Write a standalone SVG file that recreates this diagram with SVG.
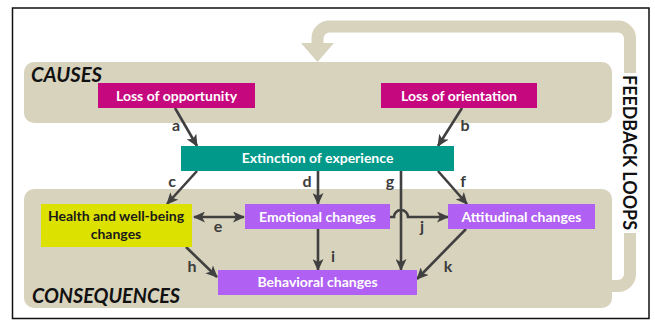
<svg xmlns="http://www.w3.org/2000/svg" width="655" height="320" viewBox="0 0 655 320">
<style>
.band{fill:#d8d3bd}
.loop{fill:none;stroke:#d8d3bd;stroke-width:12}
.box-m{fill:#c6087f}
.box-t{fill:#00998a}
.box-y{fill:#dde100}
.box-p{fill:#b060f2}
.lbl{font-family:Lato,"Open Sans","Liberation Sans",sans-serif;font-weight:bold;font-size:14px;fill:#ffffff;text-anchor:middle}
.dark{fill:#1a1a1a}
.head{font-family:Lato,"Open Sans","Liberation Sans",sans-serif;font-weight:bold;font-style:italic;font-size:20px;fill:#111111}
.let{font-family:Lato,"Open Sans","Liberation Sans",sans-serif;font-weight:bold;font-size:16px;fill:#3c3c3c;text-anchor:middle}
.arr{fill:none;stroke:#404040;stroke-width:2.6;marker-end:url(#ah)}
</style>
<defs>
<marker id="ah" markerUnits="userSpaceOnUse" markerWidth="12" markerHeight="11" viewBox="0 0 12 11" refX="11" refY="5.5" orient="auto-start-reverse">
<path d="M0,0 L12,5.5 L0,11 L3,5.5 z" fill="#404040"/>
</marker>
</defs>
<rect x="12.5" y="8" width="636.5" height="310.5" fill="#ffffff" stroke="#111111" stroke-width="1.5"/>

<g id="feedback-loop">
<path class="loop" d="M612 286 H618 A12 12 0 0 0 630 274 V233"/>
<path class="loop" d="M630 73 V38.5 A12 12 0 0 0 618 26.5 H329.5 A12 12 0 0 0 317.5 38.5 V44"/>
<polygon points="301,43 334,43 317.5,62" fill="#d8d3bd"/>
<text transform="translate(623,75) rotate(90)" font-family="Lato,'Open Sans','Liberation Sans',sans-serif" font-weight="bold" font-size="19" fill="#111111" textLength="155" lengthAdjust="spacingAndGlyphs">FEEDBACK LOOPS</text>
</g>

<g id="causes">
<rect class="band" x="24" y="62" width="588" height="61" rx="10"/>
<text class="head" x="31" y="82" textLength="71" lengthAdjust="spacingAndGlyphs">CAUSES</text>
</g>
<g id="consequences">
<rect class="band" x="24" y="189" width="588" height="119" rx="10"/>
<text class="head" x="32" y="303" textLength="148" lengthAdjust="spacingAndGlyphs">CONSEQUENCES</text>
</g>

<g id="connectors">
<line class="arr" x1="175" y1="108" x2="197" y2="146"/>
<line class="arr" x1="462" y1="108" x2="438" y2="146"/>
<line class="arr" x1="197" y1="171" x2="167" y2="204"/>
<line class="arr" x1="318" y1="171" x2="318" y2="204"/>
<line class="arr" x1="401" y1="171" x2="401" y2="270"/>
<line class="arr" x1="438" y1="171" x2="467" y2="204"/>
<line class="arr" x1="194" y1="217" x2="244" y2="217" style="marker-start:url(#ah)"/>
<path class="arr" d="M390 217 H394 A7 7 0 0 1 408 217 H448"/>
<line class="arr" x1="318" y1="229" x2="318" y2="270"/>
<line class="arr" x1="186" y1="247" x2="217" y2="277"/>
<line class="arr" x1="466" y1="229" x2="417" y2="279"/>
<text class="let" x="176" y="131">a</text>
<text class="let" x="465" y="131">b</text>
<text class="let" x="172" y="187">c</text>
<text class="let" x="307" y="187">d</text>
<text class="let" x="390" y="187">g</text>
<text class="let" x="463" y="187">f</text>
<text class="let" x="218" y="232">e</text>
<text class="let" x="422" y="232">j</text>
<text class="let" x="333" y="262">i</text>
<text class="let" x="192" y="272">h</text>
<text class="let" x="448" y="272">k</text>
</g>

<g id="loss-of-opportunity">
<rect class="box-m" x="98" y="83" width="157" height="25"/>
<text class="lbl" x="176.5" y="101">Loss of opportunity</text>
</g>
<g id="loss-of-orientation">
<rect class="box-m" x="381" y="83" width="156" height="25"/>
<text class="lbl" x="459" y="101">Loss of orientation</text>
</g>
<g id="extinction-of-experience">
<rect class="box-t" x="181" y="146" width="273" height="25"/>
<text class="lbl" x="317.5" y="163">Extinction of experience</text>
</g>
<g id="health">
<rect class="box-y" x="41" y="204" width="151" height="43"/>
<text class="lbl dark" x="116" y="221">Health and well-being</text>
<text class="lbl dark" x="116" y="238.5">changes</text>
</g>
<g id="emotional-changes">
<rect class="box-p" x="245" y="204" width="145" height="25"/>
<text class="lbl" x="317.5" y="222">Emotional changes</text>
</g>
<g id="attitudinal-changes">
<rect class="box-p" x="448" y="204" width="147" height="25"/>
<text class="lbl" x="521.5" y="222">Attitudinal changes</text>
</g>
<g id="behavioral-changes">
<rect class="box-p" x="218" y="270" width="199" height="25"/>
<text class="lbl" x="317.5" y="287">Behavioral changes</text>
</g>
</svg>
